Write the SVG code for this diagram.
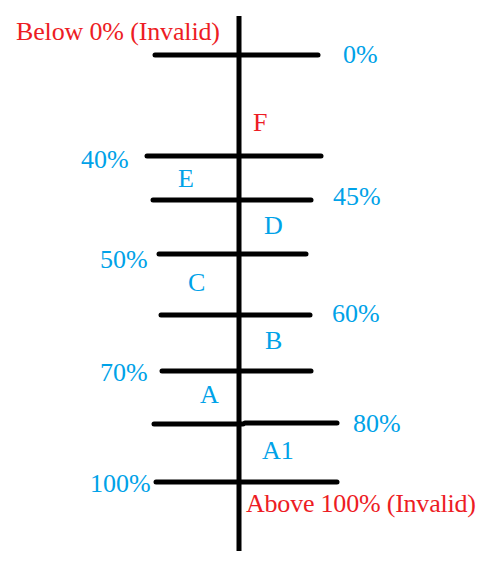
<svg xmlns="http://www.w3.org/2000/svg" width="496" height="563" viewBox="0 0 496 563">
<style>
.tick{stroke:#000;stroke-width:5;stroke-linecap:round;fill:none}
.axis{stroke:#000;stroke-width:5;fill:none}
text{font-family:"Liberation Serif","DejaVu Serif",serif;font-size:26px}
.red{fill:#ed1c24}
.blue{fill:#00a2e8}
</style>
<rect width="496" height="563" fill="#fff"/>
<g id="connectors">
<line class="axis" x1="239" y1="16" x2="239" y2="551"/>
</g>
<g id="invalid-below"><text class="red" x="16" y="40" textLength="204">Below 0% (Invalid)</text></g>
<g id="tick-0"><line class="tick" x1="155" y1="55" x2="318" y2="55"/><text class="blue" x="343" y="63">0%</text></g>
<g id="zone-F"><text class="red" x="253" y="131">F</text></g>
<g id="tick-40"><line class="tick" x1="147" y1="156" x2="321" y2="156"/><text class="blue" x="81" y="168">40%</text></g>
<g id="zone-E"><text class="blue" x="178" y="187">E</text></g>
<g id="tick-45"><line class="tick" x1="153" y1="200" x2="311" y2="200"/><text class="blue" x="333" y="205">45%</text></g>
<g id="zone-D"><text class="blue" x="264" y="234">D</text></g>
<g id="tick-50"><line class="tick" x1="159" y1="254" x2="306" y2="254"/><text class="blue" x="100" y="268">50%</text></g>
<g id="zone-C"><text class="blue" x="188" y="291">C</text></g>
<g id="tick-60"><line class="tick" x1="161" y1="315" x2="310" y2="315"/><text class="blue" x="332" y="322">60%</text></g>
<g id="zone-B"><text class="blue" x="265" y="349">B</text></g>
<g id="tick-70"><line class="tick" x1="162" y1="371" x2="311" y2="371"/><text class="blue" x="100" y="381">70%</text></g>
<g id="zone-A"><text class="blue" x="200" y="403">A</text></g>
<g id="tick-80"><line class="tick" x1="154" y1="424" x2="243" y2="424"/><line class="tick" x1="245" y1="423" x2="337" y2="423"/><text class="blue" x="353" y="432">80%</text></g>
<g id="zone-A1"><text class="blue" x="262" y="459">A1</text></g>
<g id="tick-100"><line class="tick" x1="156" y1="482" x2="337" y2="482"/><text class="blue" x="90" y="492">100%</text></g>
<g id="invalid-above"><text class="red" x="246" y="512" textLength="230">Above 100% (Invalid)</text></g>
</svg>
